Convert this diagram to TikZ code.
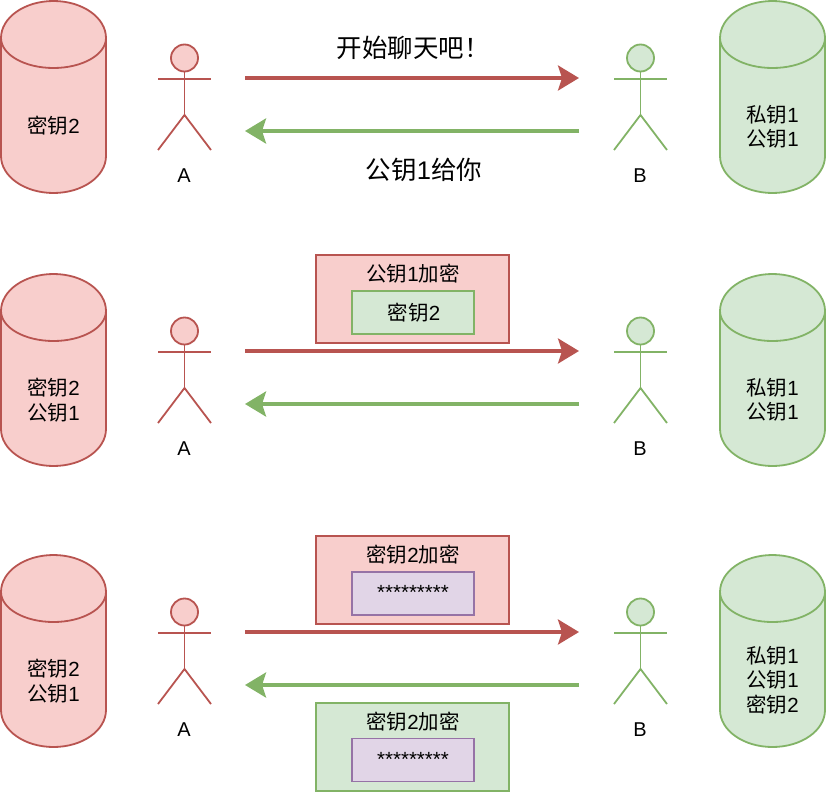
\documentclass[tikz,border=0pt]{standalone}
\usepackage{fontspec}
\setmainfont{Liberation Sans}
\newfontfamily\cjk{Noto Sans CJK SC}
\usetikzlibrary{arrows.meta}
\newcommand{\Z}[1]{{\cjk #1}}
\definecolor{redL}{HTML}{B85450}
\definecolor{redF}{HTML}{F8CECC}
\definecolor{greenL}{HTML}{82B366}
\definecolor{greenF}{HTML}{D5E8D4}
\definecolor{purpL}{HTML}{9673A6}
\definecolor{purpF}{HTML}{E1D5E7}
\tikzset{
  x=1pt,y=-1pt,
  redshape/.style={draw=redL,fill=redF,line width=1.8pt},
  greenshape/.style={draw=greenL,fill=greenF,line width=1.8pt},
  purpshape/.style={draw=purpL,fill=purpF,line width=1.8pt},
  txt/.style={inner sep=0pt,align=center,text=black,font=\fontsize{20.5}{24.5}\selectfont},
  bigtxt/.style={inner sep=0pt,align=center,text=black,font=\fontsize{25.5}{28}\selectfont},
  stars/.style={inner sep=0pt,text=black,font=\fontsize{20.5}{24}\selectfont},
  outerbox/.style={minimum width=193pt,minimum height=88pt,inner sep=0pt},
  innerbox/.style={minimum width=122pt,minimum height=43pt,inner sep=0pt},
  redarrow/.style={draw=redL,line width=3.5pt,-{Stealth[length=21pt,width=25pt,inset=4pt,color=redL]}},
  greenarrow/.style={draw=greenL,line width=3.5pt,-{Stealth[length=21pt,width=25pt,inset=4pt,color=greenL]}},
}
% #1 x-centre, #2 shape style
\newcommand{\Cyl}[2]{
  \path[#2,line join=round] (#1-52.5,38)
    arc[x radius=52.5pt,y radius=37pt,start angle=180,end angle=0]
    -- (#1+52.5,156)
    arc[x radius=52.5pt,y radius=37pt,start angle=0,end angle=-180]
    -- cycle;
  \path[#2,fill=none] (#1-52.5,38)
    arc[x radius=52.5pt,y radius=30pt,start angle=180,end angle=360];
}
% #1 x-centre, #2 shape style, #3 name, #4 letter
\newcommand{\Actor}[4]{
  \draw[#2,fill=none] (#1-26.5,79) -- (#1+26.5,79);
  \draw[#2,fill=none] (#1,71) -- (#1,115);
  \draw[#2,fill=none] (#1-26.5,150) -- (#1,115) -- (#1+26.5,150);
  \path[#2] (#1,58) circle[radius=13.5pt];
  \node[txt,font=\fontsize{20}{24}\selectfont] (#3) at (#1-0.5,176) {#4};
}
% one row: #1 suffix
\newcommand{\RowBase}[1]{
  \Cyl{53.5}{redshape}
  \Cyl{772.5}{greenshape}
  \Actor{184.5}{redshape}{A#1}{A}
  \Actor{640.5}{greenshape}{B#1}{B}
  \coordinate (rs#1) at (245,78);
  \coordinate (re#1) at (579,78);
  \coordinate (gs#1) at (579,131);
  \coordinate (ge#1) at (245,131);
  \draw[redarrow] (rs#1) -- (re#1);
  \draw[greenarrow] (gs#1) -- (ge#1);
}
\begin{document}
\begin{tikzpicture}
\useasboundingbox (0,0) rectangle (826,792);
% ---- row 1
\RowBase{a}
\node[txt] (k1) at (53.5,126) {\Z{密钥}2};
\node[txt] (k2) at (772.5,127) {\Z{私钥}1\\\Z{公钥}1};
\node[bigtxt] (t1) at (413,48) {\Z{开始聊天吧！}};
\node[bigtxt] (t2) at (424,170) {\Z{公钥}1\Z{给你}};
% ---- row 2
\begin{scope}[yshift=-273pt]
\RowBase{b}
\node[txt] (k3) at (53.5,127) {\Z{密钥}2\\\Z{公钥}1};
\node[txt] (k4) at (772.5,127) {\Z{私钥}1\\\Z{公钥}1};
\end{scope}
\node[outerbox,redshape] (bx1) at (412.5,299) {};
\node[txt] (bx1t) at (413,274) {\Z{公钥}1\Z{加密}};
\node[innerbox,greenshape] (in1) at (413,312.5) {};
\node[txt] (in1t) at (414,313) {\Z{密钥}2};
% ---- row 3
\begin{scope}[yshift=-554pt]
\RowBase{c}
\node[txt] (k5) at (53.5,127) {\Z{密钥}2\\\Z{公钥}1};
\node[txt] (k6) at (772.5,126) {\Z{私钥}1\\\Z{公钥}1\\\Z{密钥}2};
\end{scope}
\node[outerbox,redshape] (bx2) at (412.5,580) {};
\node[txt] (bx2t) at (413,555) {\Z{密钥}2\Z{加密}};
\node[innerbox,purpshape] (in2) at (413,593.5) {};
\node[stars] (in2t) at (413,592) {*********};
\node[outerbox,greenshape] (bx3) at (412.5,747) {};
\node[txt] (bx3t) at (413,722) {\Z{密钥}2\Z{加密}};
\node[innerbox,purpshape] (in3) at (413,760) {};
\node[stars] (in3t) at (413,759) {*********};
\end{tikzpicture}
\end{document}
